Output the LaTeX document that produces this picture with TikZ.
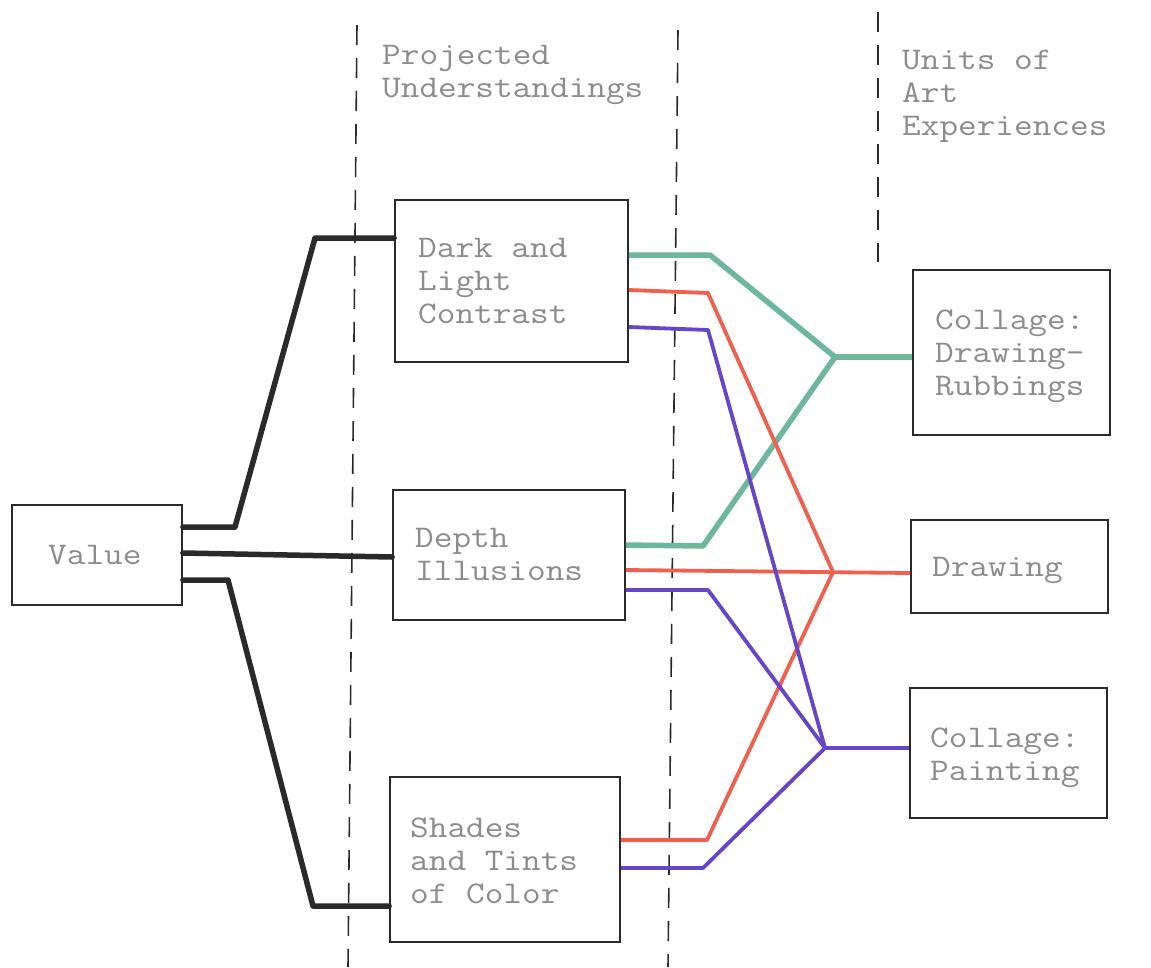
\documentclass[tikz,border=0pt]{standalone}
\usepackage{fontspec}
\newfontfamily\typewriter{Latin Modern Mono}[FakeStretch=1.15]
\definecolor{ink}{HTML}{8C8C8C}
\definecolor{rule}{HTML}{2A2A2A}
\definecolor{tealink}{HTML}{6DB89C}
\definecolor{redink}{HTML}{F0604E}
\definecolor{violetink}{HTML}{6545C8}
\begin{document}
\begin{tikzpicture}[x=1pt,y=-1pt,
  box/.style={draw=rule,line width=1.8pt,inner sep=0pt},
  % texts are anchored at the baseline of their last line
  txt/.style={anchor=base west,inner sep=0pt,text=ink,
    font=\typewriter\fontsize{31.5}{33}\selectfont,align=left},
  sep/.style={draw=rule,line width=1.6pt,dash pattern=on 20pt off 13pt},
  blk/.style={draw=rule,line width=5.5pt,line join=round,line cap=round},
  grn/.style={draw=tealink,line width=5.5pt,line join=round},
  rd/.style={draw=redink,line width=3.8pt,line join=round},
  vi/.style={draw=violetink,line width=3.8pt,line join=round}]
\useasboundingbox (0,0) rectangle (1151,967);
\fill[white] (0,0) rectangle (1151,967);

% column separators
\draw[sep] (357,25) -- (348,967);
\draw[sep] (678,30) -- (668,967);
\draw[sep] (878,12) -- (878,262);

% column headings
\node[txt] (hPU) at (382,97) {Projected\\Understandings};
\node[txt] (hUA) at (902,135) {Units of\\Art\\Experiences};

% boxes
\node[box,minimum width=170pt,minimum height=100pt] (val) at (97,555) {};
\node[box,minimum width=233pt,minimum height=162pt] (dl) at (511.5,281) {};
\node[box,minimum width=232pt,minimum height=130pt] (di) at (509,555) {};
\node[box,minimum width=230pt,minimum height=165pt] (st) at (505,859.5) {};
\node[box,minimum width=197pt,minimum height=165pt] (cr) at (1011.5,352.5) {};
\node[box,minimum width=197pt,minimum height=93pt] (dr) at (1009.5,566.5) {};
\node[box,minimum width=197pt,minimum height=130pt] (cp) at (1008.5,753) {};

% box texts
\node[txt] (tval) at (48,564) {Value};
\node[txt] (tdl) at (418,323) {Dark and\\Light\\Contrast};
\node[txt] (tdi) at (415,580) {Depth\\Illusions};
\node[txt] (tst) at (410,903) {Shades\\and Tints\\of Color};
\node[txt] (tcr) at (935,395) {Collage:\\Drawing-\\Rubbings};
\node[txt] (tdr) at (932,576) {Drawing};
\node[txt] (tcp) at (930,780) {Collage:\\Painting};

% bend points
\coordinate (b1) at (235,527);
\coordinate (b2) at (315,238);
\coordinate (b3) at (228,580);
\coordinate (b4) at (313,906);
\coordinate (jg) at (835,357);
\coordinate (jr) at (833,572);
\coordinate (jv) at (825,748);

% value to understandings
\draw[blk] (val.east |- b1) -- (b1) -- (b2) -- (dl.west |- b2);
\draw[blk] (val.east |- 0,553) -- (di.west |- 0,557);
\draw[blk] (val.east |- b3) -- (b3) -- (b4) -- (st.west |- b4);

% teal: to Collage: Drawing-Rubbings
\draw[grn] (dl.east |- 0,255) -- (710,255) -- (jg);
\draw[grn] (di.east |- 0,545) -- (703,546) -- (jg);
\draw[grn] (jg) -- (cr.west |- jg);

% red: to Drawing
\draw[rd] (dl.east |- 0,290) -- (708,293) -- (jr);
\draw[rd] (di.east |- 0,570) -- (dr.west |- 0,573);
\draw[rd] (st.east |- 0,840) -- (707,840) -- (jr);

% violet: to Collage: Painting
\draw[vi] (dl.east |- 0,327) -- (708,330) -- (jv);
\draw[vi] (di.east |- 0,590) -- (708,590) -- (jv);
\draw[vi] (st.east |- 0,868) -- (703,868) -- (jv);
\draw[vi] (jv) -- (cp.west |- jv);
\end{tikzpicture}
\end{document}
